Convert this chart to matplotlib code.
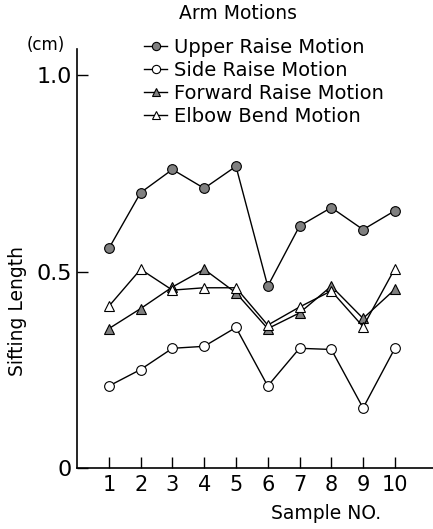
import matplotlib
matplotlib.use("Agg")
import matplotlib.pyplot as plt
import numpy as np

# --- Data ---
samples = [1, 2, 3, 4, 5, 6, 7, 8, 9, 10]
upper_raise = [0.559, 0.701, 0.760, 0.712, 0.768, 0.463, 0.616, 0.663, 0.607, 0.655]
side_raise = [0.209, 0.251, 0.305, 0.310, 0.358, 0.209, 0.305, 0.302, 0.153, 0.305]
forward_raise = [0.355, 0.406, 0.461, 0.506, 0.446, 0.355, 0.395, 0.463, 0.381, 0.455]
elbow_bend = [0.412, 0.506, 0.453, 0.459, 0.459, 0.364, 0.410, 0.451, 0.360, 0.508]
y_ticks = [0, 0.5, 1.0]
y_tick_labels = ["0", "0.5", "1.0"]

plt.rcParams['font.family'] = ['DejaVu Sans']

fig = plt.figure(figsize=(4.33, 5.29), dpi=100)
ax = fig.add_axes([0.178, 0.115, 0.822, 0.792])

gray = '#808080'
ax.plot(samples, upper_raise, '-o', color='black', lw=1, ms=7,
        mfc=gray, mec='black', mew=0.8, label='Upper Raise Motion')
ax.plot(samples, side_raise, '-o', color='black', lw=1, ms=7,
        mfc='white', mec='black', mew=0.8, label='Side Raise Motion')
ax.plot(samples, forward_raise, '-^', color='black', lw=1, ms=7,
        mfc=gray, mec='black', mew=0.8, label='Forward Raise Motion')
ax.plot(samples, elbow_bend, '-^', color='black', lw=1, ms=7,
        mfc='white', mec='black', mew=0.8, label='Elbow Bend Motion')

ax.set_xlim(0, 11.2)
ax.set_ylim(0, 1.066)
ax.spines['top'].set_visible(False)
ax.spines['right'].set_visible(False)
ax.spines['left'].set_linewidth(1.2)
ax.spines['bottom'].set_linewidth(1.2)

ax.set_xticks(samples)
ax.set_xticklabels([str(s) for s in samples], fontsize=15)
ax.set_yticks(y_ticks)
ax.set_yticklabels(y_tick_labels, fontsize=16)
ax.tick_params(axis='both', direction='in', length=8, width=1)
ax.tick_params(axis='x', pad=5)
ax.tick_params(axis='y', pad=4)

ax.set_xlabel('Sample NO.', fontsize=13.5)
ax.xaxis.set_label_coords(0.7, -0.085)
ax.set_ylabel('Sifting Length', fontsize=13.5)
ax.yaxis.set_label_coords(-0.14, 0.375)

fig.text(0.105, 0.905, '(cm)', fontsize=12, ha='center')
fig.text(0.55, 0.965, 'Arm Motions', fontsize=13.5, ha='center')

ax.legend(loc='upper left', bbox_to_anchor=(0.31, 0.946), bbox_transform=fig.transFigure,
          frameon=False, fontsize=14, handlelength=1.2, handletextpad=0.35,
          labelspacing=0.2, borderpad=0, markerscale=0.85)

fig.savefig('out.png', dpi=100)
